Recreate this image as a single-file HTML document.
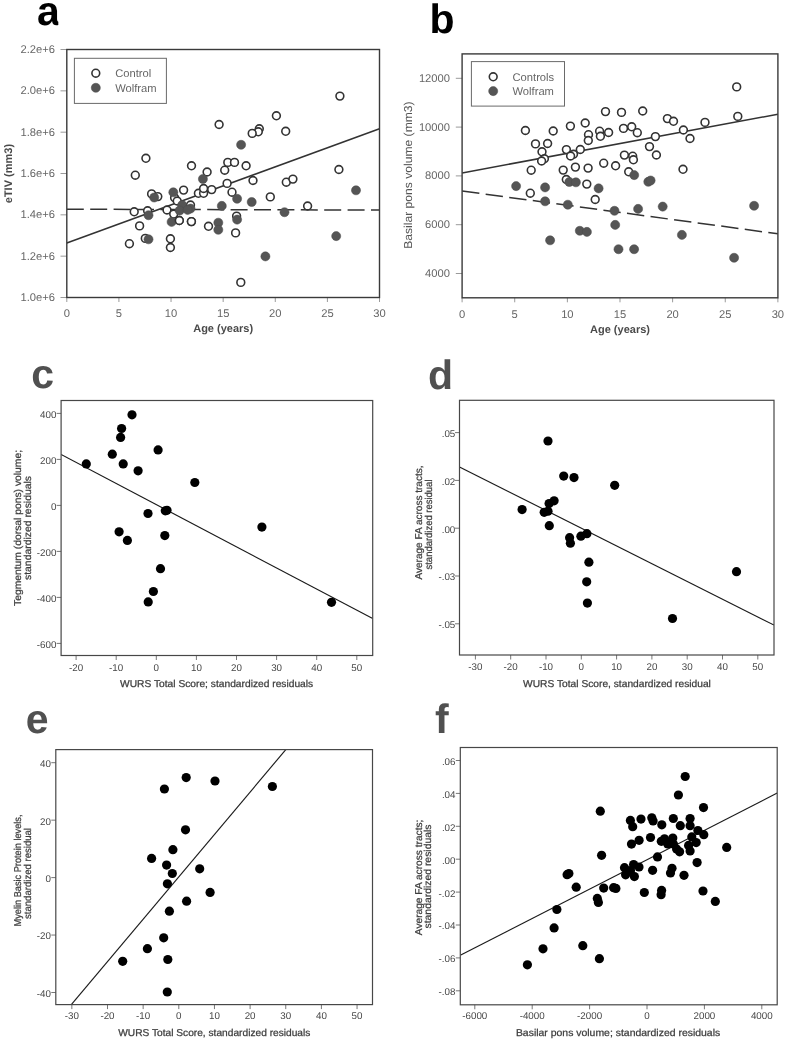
<!DOCTYPE html>
<html><head><meta charset="utf-8"><title>Figure</title>
<style>
html,body{margin:0;padding:0;background:#fff;overflow:hidden}
svg{display:block;will-change:transform}
text{font-family:"Liberation Sans",sans-serif;text-rendering:geometricPrecision}
</style></head><body>
<svg width="787" height="1041" viewBox="0 0 787 1041">
<rect width="787" height="1041" fill="#fff"/>
<defs>
<clipPath id="ca"><rect x="66.8" y="49.5" width="312.7" height="248"/></clipPath>
<clipPath id="cb"><rect x="462.1" y="53.9" width="315.8" height="243.9"/></clipPath>
<clipPath id="cc"><rect x="61.1" y="400.5" width="311.6" height="255"/></clipPath>
<clipPath id="cd"><rect x="459.5" y="400.3" width="314.5" height="254.7"/></clipPath>
<clipPath id="ce"><rect x="55.8" y="749.6" width="316.7" height="255"/></clipPath>
<clipPath id="cf"><rect x="460.3" y="747.5" width="316.9" height="257.3"/></clipPath>
<clipPath id="cla"><rect x="30" y="0" width="28.3" height="40"/></clipPath>
</defs>
<line x1="60.5" y1="297.5" x2="66.8" y2="297.5" stroke="#9a9a9a" stroke-width="1"/>
<text x="55" y="300.9" font-size="11.2" fill="#666" text-anchor="end">1.0e+6</text>
<line x1="60.5" y1="256.17" x2="66.8" y2="256.17" stroke="#9a9a9a" stroke-width="1"/>
<text x="55" y="259.57" font-size="11.2" fill="#666" text-anchor="end">1.2e+6</text>
<line x1="60.5" y1="214.84" x2="66.8" y2="214.84" stroke="#9a9a9a" stroke-width="1"/>
<text x="55" y="218.24" font-size="11.2" fill="#666" text-anchor="end">1.4e+6</text>
<line x1="60.5" y1="173.51" x2="66.8" y2="173.51" stroke="#9a9a9a" stroke-width="1"/>
<text x="55" y="176.91" font-size="11.2" fill="#666" text-anchor="end">1.6e+6</text>
<line x1="60.5" y1="132.18" x2="66.8" y2="132.18" stroke="#9a9a9a" stroke-width="1"/>
<text x="55" y="135.58" font-size="11.2" fill="#666" text-anchor="end">1.8e+6</text>
<line x1="60.5" y1="90.85" x2="66.8" y2="90.85" stroke="#9a9a9a" stroke-width="1"/>
<text x="55" y="94.25" font-size="11.2" fill="#666" text-anchor="end">2.0e+6</text>
<line x1="60.5" y1="49.52" x2="66.8" y2="49.52" stroke="#9a9a9a" stroke-width="1"/>
<text x="55" y="52.92" font-size="11.2" fill="#666" text-anchor="end">2.2e+6</text>
<line x1="66.8" y1="297.5" x2="66.8" y2="302" stroke="#9a9a9a" stroke-width="1"/>
<text x="66.8" y="317.1" font-size="11.2" fill="#666" text-anchor="middle">0</text>
<line x1="118.92" y1="297.5" x2="118.92" y2="302" stroke="#9a9a9a" stroke-width="1"/>
<text x="118.92" y="317.1" font-size="11.2" fill="#666" text-anchor="middle">5</text>
<line x1="171.04" y1="297.5" x2="171.04" y2="302" stroke="#9a9a9a" stroke-width="1"/>
<text x="171.04" y="317.1" font-size="11.2" fill="#666" text-anchor="middle">10</text>
<line x1="223.16" y1="297.5" x2="223.16" y2="302" stroke="#9a9a9a" stroke-width="1"/>
<text x="223.16" y="317.1" font-size="11.2" fill="#666" text-anchor="middle">15</text>
<line x1="275.28" y1="297.5" x2="275.28" y2="302" stroke="#9a9a9a" stroke-width="1"/>
<text x="275.28" y="317.1" font-size="11.2" fill="#666" text-anchor="middle">20</text>
<line x1="327.4" y1="297.5" x2="327.4" y2="302" stroke="#9a9a9a" stroke-width="1"/>
<text x="327.4" y="317.1" font-size="11.2" fill="#666" text-anchor="middle">25</text>
<line x1="379.52" y1="297.5" x2="379.52" y2="302" stroke="#9a9a9a" stroke-width="1"/>
<text x="379.52" y="317.1" font-size="11.2" fill="#666" text-anchor="middle">30</text>
<text x="223.15" y="332.3" font-size="11" fill="#4a4a4a" text-anchor="middle" font-weight="bold">Age (years)</text>
<text x="11.9" y="173.6" font-size="11" fill="#4a4a4a" text-anchor="middle" font-weight="bold" transform="rotate(-90 11.9 173.6)">eTIV (mm3)</text>
<g clip-path="url(#ca)">
<line x1="66.8" y1="243" x2="379.5" y2="128.8" stroke="#333" stroke-width="1.5"/>
<line x1="66.8" y1="209.2" x2="379.5" y2="210.1" stroke="#333" stroke-width="1.5" stroke-dasharray="17 6.4"/>
<circle cx="219.1" cy="124.5" r="3.9" fill="#fff" stroke="#333" stroke-width="1.6"/>
<circle cx="145.9" cy="158.3" r="3.9" fill="#fff" stroke="#333" stroke-width="1.6"/>
<circle cx="135.3" cy="175.2" r="3.9" fill="#fff" stroke="#333" stroke-width="1.6"/>
<circle cx="191.5" cy="165.8" r="3.9" fill="#fff" stroke="#333" stroke-width="1.6"/>
<circle cx="227.8" cy="162.4" r="3.9" fill="#fff" stroke="#333" stroke-width="1.6"/>
<circle cx="234.5" cy="162.4" r="3.9" fill="#fff" stroke="#333" stroke-width="1.6"/>
<circle cx="246.1" cy="165.8" r="3.9" fill="#fff" stroke="#333" stroke-width="1.6"/>
<circle cx="224.7" cy="170.2" r="3.9" fill="#fff" stroke="#333" stroke-width="1.6"/>
<circle cx="207.1" cy="172" r="3.9" fill="#fff" stroke="#333" stroke-width="1.6"/>
<circle cx="227.1" cy="183.4" r="3.9" fill="#fff" stroke="#333" stroke-width="1.6"/>
<circle cx="151.6" cy="193.9" r="3.9" fill="#fff" stroke="#333" stroke-width="1.6"/>
<circle cx="157.8" cy="196.6" r="3.9" fill="#fff" stroke="#333" stroke-width="1.6"/>
<circle cx="183.6" cy="190.1" r="3.9" fill="#fff" stroke="#333" stroke-width="1.6"/>
<circle cx="174.6" cy="197.8" r="3.9" fill="#fff" stroke="#333" stroke-width="1.6"/>
<circle cx="177.2" cy="201" r="3.9" fill="#fff" stroke="#333" stroke-width="1.6"/>
<circle cx="134.2" cy="211.8" r="3.9" fill="#fff" stroke="#333" stroke-width="1.6"/>
<circle cx="147.6" cy="210.8" r="3.9" fill="#fff" stroke="#333" stroke-width="1.6"/>
<circle cx="167" cy="210" r="3.9" fill="#fff" stroke="#333" stroke-width="1.6"/>
<circle cx="173.7" cy="214.1" r="3.9" fill="#fff" stroke="#333" stroke-width="1.6"/>
<circle cx="179.3" cy="220.5" r="3.9" fill="#fff" stroke="#333" stroke-width="1.6"/>
<circle cx="191.4" cy="221.6" r="3.9" fill="#fff" stroke="#333" stroke-width="1.6"/>
<circle cx="139.6" cy="225.9" r="3.9" fill="#fff" stroke="#333" stroke-width="1.6"/>
<circle cx="145.3" cy="238.4" r="3.9" fill="#fff" stroke="#333" stroke-width="1.6"/>
<circle cx="129.4" cy="243.7" r="3.9" fill="#fff" stroke="#333" stroke-width="1.6"/>
<circle cx="170.4" cy="238.8" r="3.9" fill="#fff" stroke="#333" stroke-width="1.6"/>
<circle cx="170.4" cy="247.5" r="3.9" fill="#fff" stroke="#333" stroke-width="1.6"/>
<circle cx="198.4" cy="193.3" r="3.9" fill="#fff" stroke="#333" stroke-width="1.6"/>
<circle cx="203.6" cy="193.3" r="3.9" fill="#fff" stroke="#333" stroke-width="1.6"/>
<circle cx="203.6" cy="188.5" r="3.9" fill="#fff" stroke="#333" stroke-width="1.6"/>
<circle cx="211.7" cy="189.6" r="3.9" fill="#fff" stroke="#333" stroke-width="1.6"/>
<circle cx="232" cy="192.2" r="3.9" fill="#fff" stroke="#333" stroke-width="1.6"/>
<circle cx="190.5" cy="205" r="3.9" fill="#fff" stroke="#333" stroke-width="1.6"/>
<circle cx="208.5" cy="226.3" r="3.9" fill="#fff" stroke="#333" stroke-width="1.6"/>
<circle cx="236.6" cy="216.1" r="3.9" fill="#fff" stroke="#333" stroke-width="1.6"/>
<circle cx="235.6" cy="232.9" r="3.9" fill="#fff" stroke="#333" stroke-width="1.6"/>
<circle cx="276.4" cy="115.8" r="3.9" fill="#fff" stroke="#333" stroke-width="1.6"/>
<circle cx="285.7" cy="131.3" r="3.9" fill="#fff" stroke="#333" stroke-width="1.6"/>
<circle cx="259.3" cy="128.8" r="3.9" fill="#fff" stroke="#333" stroke-width="1.6"/>
<circle cx="258.3" cy="131.8" r="3.9" fill="#fff" stroke="#333" stroke-width="1.6"/>
<circle cx="252.2" cy="133.4" r="3.9" fill="#fff" stroke="#333" stroke-width="1.6"/>
<circle cx="339.9" cy="96.1" r="3.9" fill="#fff" stroke="#333" stroke-width="1.6"/>
<circle cx="253" cy="180.5" r="3.9" fill="#fff" stroke="#333" stroke-width="1.6"/>
<circle cx="286.3" cy="182.2" r="3.9" fill="#fff" stroke="#333" stroke-width="1.6"/>
<circle cx="292.9" cy="179.1" r="3.9" fill="#fff" stroke="#333" stroke-width="1.6"/>
<circle cx="270.3" cy="196.9" r="3.9" fill="#fff" stroke="#333" stroke-width="1.6"/>
<circle cx="307.6" cy="206" r="3.9" fill="#fff" stroke="#333" stroke-width="1.6"/>
<circle cx="240.8" cy="282.4" r="3.9" fill="#fff" stroke="#333" stroke-width="1.6"/>
<circle cx="338.9" cy="169.5" r="3.9" fill="#fff" stroke="#333" stroke-width="1.6"/>
<circle cx="241.1" cy="144.8" r="4.55" fill="#555" stroke="#4a4a4a" stroke-width="0.5"/>
<circle cx="202.9" cy="179" r="4.55" fill="#555" stroke="#4a4a4a" stroke-width="0.5"/>
<circle cx="154.2" cy="197.5" r="4.55" fill="#555" stroke="#4a4a4a" stroke-width="0.5"/>
<circle cx="173.3" cy="192.3" r="4.55" fill="#555" stroke="#4a4a4a" stroke-width="0.5"/>
<circle cx="148.5" cy="215.2" r="4.55" fill="#555" stroke="#4a4a4a" stroke-width="0.5"/>
<circle cx="171.6" cy="221.9" r="4.55" fill="#555" stroke="#4a4a4a" stroke-width="0.5"/>
<circle cx="182.2" cy="205" r="4.55" fill="#555" stroke="#4a4a4a" stroke-width="0.5"/>
<circle cx="179.7" cy="210.5" r="4.55" fill="#555" stroke="#4a4a4a" stroke-width="0.5"/>
<circle cx="190.5" cy="208.6" r="4.55" fill="#555" stroke="#4a4a4a" stroke-width="0.5"/>
<circle cx="187.6" cy="209.9" r="4.55" fill="#555" stroke="#4a4a4a" stroke-width="0.5"/>
<circle cx="148.5" cy="239.3" r="4.55" fill="#555" stroke="#4a4a4a" stroke-width="0.5"/>
<circle cx="237.1" cy="198.8" r="4.55" fill="#555" stroke="#4a4a4a" stroke-width="0.5"/>
<circle cx="221.8" cy="205.9" r="4.55" fill="#555" stroke="#4a4a4a" stroke-width="0.5"/>
<circle cx="218.3" cy="222.7" r="4.55" fill="#555" stroke="#4a4a4a" stroke-width="0.5"/>
<circle cx="218.3" cy="229.8" r="4.55" fill="#555" stroke="#4a4a4a" stroke-width="0.5"/>
<circle cx="237.1" cy="219.6" r="4.55" fill="#555" stroke="#4a4a4a" stroke-width="0.5"/>
<circle cx="251.7" cy="202" r="4.55" fill="#555" stroke="#4a4a4a" stroke-width="0.5"/>
<circle cx="284.5" cy="212.2" r="4.55" fill="#555" stroke="#4a4a4a" stroke-width="0.5"/>
<circle cx="265.4" cy="256.4" r="4.55" fill="#555" stroke="#4a4a4a" stroke-width="0.5"/>
<circle cx="356" cy="190.3" r="4.55" fill="#555" stroke="#4a4a4a" stroke-width="0.5"/>
<circle cx="336.2" cy="236.1" r="4.55" fill="#555" stroke="#4a4a4a" stroke-width="0.5"/>
<circle cx="179.3" cy="220.5" r="3.9" fill="#fff" stroke="#333" stroke-width="1.6"/>
<circle cx="191.4" cy="221.6" r="3.9" fill="#fff" stroke="#333" stroke-width="1.6"/>
</g>
<rect x="74.4" y="58.3" width="92" height="45.1" fill="#fff" stroke="#6a6a6a" stroke-width="1"/>
<circle cx="95.8" cy="73.2" r="3.9" fill="#fff" stroke="#333" stroke-width="1.6"/>
<circle cx="95.8" cy="87.8" r="4.55" fill="#555" stroke="#4a4a4a" stroke-width="0.5"/>
<text x="115.2" y="77.1" font-size="11.2" fill="#666">Control</text>
<text x="115.2" y="91.7" font-size="11.2" fill="#666">Wolfram</text>
<rect x="66.8" y="49.5" width="312.7" height="248" fill="none" stroke="#3a3a3a" stroke-width="1.4"/>
<g clip-path="url(#cla)">
<text x="37.1" y="24.6" font-size="41" fill="#000" font-weight="bold">a</text>
</g>
<line x1="455.8" y1="273.5" x2="462.1" y2="273.5" stroke="#9a9a9a" stroke-width="1"/>
<text x="450" y="276.9" font-size="11.2" fill="#666" text-anchor="end">4000</text>
<line x1="455.8" y1="224.7" x2="462.1" y2="224.7" stroke="#9a9a9a" stroke-width="1"/>
<text x="450" y="228.1" font-size="11.2" fill="#666" text-anchor="end">6000</text>
<line x1="455.8" y1="175.9" x2="462.1" y2="175.9" stroke="#9a9a9a" stroke-width="1"/>
<text x="450" y="179.3" font-size="11.2" fill="#666" text-anchor="end">8000</text>
<line x1="455.8" y1="127.1" x2="462.1" y2="127.1" stroke="#9a9a9a" stroke-width="1"/>
<text x="450" y="130.5" font-size="11.2" fill="#666" text-anchor="end">10000</text>
<line x1="455.8" y1="78.3" x2="462.1" y2="78.3" stroke="#9a9a9a" stroke-width="1"/>
<text x="450" y="81.7" font-size="11.2" fill="#666" text-anchor="end">12000</text>
<line x1="462.1" y1="297.8" x2="462.1" y2="302.3" stroke="#9a9a9a" stroke-width="1"/>
<text x="462.1" y="317.5" font-size="11.2" fill="#666" text-anchor="middle">0</text>
<line x1="514.73" y1="297.8" x2="514.73" y2="302.3" stroke="#9a9a9a" stroke-width="1"/>
<text x="514.73" y="317.5" font-size="11.2" fill="#666" text-anchor="middle">5</text>
<line x1="567.36" y1="297.8" x2="567.36" y2="302.3" stroke="#9a9a9a" stroke-width="1"/>
<text x="567.36" y="317.5" font-size="11.2" fill="#666" text-anchor="middle">10</text>
<line x1="619.99" y1="297.8" x2="619.99" y2="302.3" stroke="#9a9a9a" stroke-width="1"/>
<text x="619.99" y="317.5" font-size="11.2" fill="#666" text-anchor="middle">15</text>
<line x1="672.62" y1="297.8" x2="672.62" y2="302.3" stroke="#9a9a9a" stroke-width="1"/>
<text x="672.62" y="317.5" font-size="11.2" fill="#666" text-anchor="middle">20</text>
<line x1="725.25" y1="297.8" x2="725.25" y2="302.3" stroke="#9a9a9a" stroke-width="1"/>
<text x="725.25" y="317.5" font-size="11.2" fill="#666" text-anchor="middle">25</text>
<line x1="777.88" y1="297.8" x2="777.88" y2="302.3" stroke="#9a9a9a" stroke-width="1"/>
<text x="777.88" y="317.5" font-size="11.2" fill="#666" text-anchor="middle">30</text>
<text x="620" y="333" font-size="11" fill="#4a4a4a" text-anchor="middle" font-weight="bold">Age (years)</text>
<text x="412.4" y="175.1" font-size="11.5" fill="#555" text-anchor="middle" transform="rotate(-90 412.4 175.1)" textLength="147.4" lengthAdjust="spacingAndGlyphs">Basilar pons volume (mm3)</text>
<g clip-path="url(#cb)">
<line x1="462.1" y1="172.9" x2="777.9" y2="114.2" stroke="#333" stroke-width="1.5"/>
<line x1="462.1" y1="191" x2="777.9" y2="233.8" stroke="#333" stroke-width="1.5" stroke-dasharray="17.4 6.37"/>
<circle cx="525.4" cy="130.5" r="3.9" fill="#fff" stroke="#333" stroke-width="1.6"/>
<circle cx="553.2" cy="131" r="3.9" fill="#fff" stroke="#333" stroke-width="1.6"/>
<circle cx="535.5" cy="143.9" r="3.9" fill="#fff" stroke="#333" stroke-width="1.6"/>
<circle cx="547.6" cy="143.5" r="3.9" fill="#fff" stroke="#333" stroke-width="1.6"/>
<circle cx="542" cy="151.8" r="3.9" fill="#fff" stroke="#333" stroke-width="1.6"/>
<circle cx="544.4" cy="158.8" r="3.9" fill="#fff" stroke="#333" stroke-width="1.6"/>
<circle cx="541.6" cy="161" r="3.9" fill="#fff" stroke="#333" stroke-width="1.6"/>
<circle cx="566.4" cy="149.6" r="3.9" fill="#fff" stroke="#333" stroke-width="1.6"/>
<circle cx="531.2" cy="170.2" r="3.9" fill="#fff" stroke="#333" stroke-width="1.6"/>
<circle cx="605.5" cy="111.6" r="3.9" fill="#fff" stroke="#333" stroke-width="1.6"/>
<circle cx="621.5" cy="112.4" r="3.9" fill="#fff" stroke="#333" stroke-width="1.6"/>
<circle cx="642.7" cy="111" r="3.9" fill="#fff" stroke="#333" stroke-width="1.6"/>
<circle cx="570.4" cy="126.1" r="3.9" fill="#fff" stroke="#333" stroke-width="1.6"/>
<circle cx="585.2" cy="123" r="3.9" fill="#fff" stroke="#333" stroke-width="1.6"/>
<circle cx="588.5" cy="134.7" r="3.9" fill="#fff" stroke="#333" stroke-width="1.6"/>
<circle cx="588.3" cy="140.5" r="3.9" fill="#fff" stroke="#333" stroke-width="1.6"/>
<circle cx="599.6" cy="131.2" r="3.9" fill="#fff" stroke="#333" stroke-width="1.6"/>
<circle cx="600.4" cy="136.3" r="3.9" fill="#fff" stroke="#333" stroke-width="1.6"/>
<circle cx="608.6" cy="132.5" r="3.9" fill="#fff" stroke="#333" stroke-width="1.6"/>
<circle cx="623.5" cy="128.4" r="3.9" fill="#fff" stroke="#333" stroke-width="1.6"/>
<circle cx="631.7" cy="126.8" r="3.9" fill="#fff" stroke="#333" stroke-width="1.6"/>
<circle cx="637.3" cy="132.7" r="3.9" fill="#fff" stroke="#333" stroke-width="1.6"/>
<circle cx="573.5" cy="154.3" r="3.9" fill="#fff" stroke="#333" stroke-width="1.6"/>
<circle cx="570.6" cy="156" r="3.9" fill="#fff" stroke="#333" stroke-width="1.6"/>
<circle cx="580.3" cy="149.5" r="3.9" fill="#fff" stroke="#333" stroke-width="1.6"/>
<circle cx="624.4" cy="155.1" r="3.9" fill="#fff" stroke="#333" stroke-width="1.6"/>
<circle cx="632.7" cy="156.2" r="3.9" fill="#fff" stroke="#333" stroke-width="1.6"/>
<circle cx="667.4" cy="118.6" r="3.9" fill="#fff" stroke="#333" stroke-width="1.6"/>
<circle cx="673.5" cy="121.3" r="3.9" fill="#fff" stroke="#333" stroke-width="1.6"/>
<circle cx="705" cy="122.4" r="3.9" fill="#fff" stroke="#333" stroke-width="1.6"/>
<circle cx="655.4" cy="136.6" r="3.9" fill="#fff" stroke="#333" stroke-width="1.6"/>
<circle cx="683.4" cy="130" r="3.9" fill="#fff" stroke="#333" stroke-width="1.6"/>
<circle cx="690" cy="138.5" r="3.9" fill="#fff" stroke="#333" stroke-width="1.6"/>
<circle cx="736.7" cy="86.9" r="3.9" fill="#fff" stroke="#333" stroke-width="1.6"/>
<circle cx="737.8" cy="116.4" r="3.9" fill="#fff" stroke="#333" stroke-width="1.6"/>
<circle cx="563.2" cy="170.1" r="3.9" fill="#fff" stroke="#333" stroke-width="1.6"/>
<circle cx="575.4" cy="167.1" r="3.9" fill="#fff" stroke="#333" stroke-width="1.6"/>
<circle cx="588.1" cy="168.1" r="3.9" fill="#fff" stroke="#333" stroke-width="1.6"/>
<circle cx="603.7" cy="163.2" r="3.9" fill="#fff" stroke="#333" stroke-width="1.6"/>
<circle cx="615.6" cy="165.8" r="3.9" fill="#fff" stroke="#333" stroke-width="1.6"/>
<circle cx="628.7" cy="171.8" r="3.9" fill="#fff" stroke="#333" stroke-width="1.6"/>
<circle cx="566.3" cy="179.5" r="3.9" fill="#fff" stroke="#333" stroke-width="1.6"/>
<circle cx="586.8" cy="184.1" r="3.9" fill="#fff" stroke="#333" stroke-width="1.6"/>
<circle cx="595.2" cy="199.5" r="3.9" fill="#fff" stroke="#333" stroke-width="1.6"/>
<circle cx="530.3" cy="193.2" r="3.9" fill="#fff" stroke="#333" stroke-width="1.6"/>
<circle cx="649.5" cy="146.6" r="3.9" fill="#fff" stroke="#333" stroke-width="1.6"/>
<circle cx="656.4" cy="155" r="3.9" fill="#fff" stroke="#333" stroke-width="1.6"/>
<circle cx="633.4" cy="159.8" r="3.9" fill="#fff" stroke="#333" stroke-width="1.6"/>
<circle cx="683" cy="169.3" r="3.9" fill="#fff" stroke="#333" stroke-width="1.6"/>
<circle cx="516.1" cy="186.1" r="4.55" fill="#555" stroke="#4a4a4a" stroke-width="0.5"/>
<circle cx="545.1" cy="187.4" r="4.55" fill="#555" stroke="#4a4a4a" stroke-width="0.5"/>
<circle cx="545.1" cy="201.3" r="4.55" fill="#555" stroke="#4a4a4a" stroke-width="0.5"/>
<circle cx="569.3" cy="182" r="4.55" fill="#555" stroke="#4a4a4a" stroke-width="0.5"/>
<circle cx="575.9" cy="182.3" r="4.55" fill="#555" stroke="#4a4a4a" stroke-width="0.5"/>
<circle cx="598.6" cy="188.4" r="4.55" fill="#555" stroke="#4a4a4a" stroke-width="0.5"/>
<circle cx="567.8" cy="204.7" r="4.55" fill="#555" stroke="#4a4a4a" stroke-width="0.5"/>
<circle cx="614.5" cy="210.8" r="4.55" fill="#555" stroke="#4a4a4a" stroke-width="0.5"/>
<circle cx="634.2" cy="175.1" r="4.55" fill="#555" stroke="#4a4a4a" stroke-width="0.5"/>
<circle cx="648.3" cy="181.8" r="4.55" fill="#555" stroke="#4a4a4a" stroke-width="0.5"/>
<circle cx="650.6" cy="180.5" r="4.55" fill="#555" stroke="#4a4a4a" stroke-width="0.5"/>
<circle cx="638.1" cy="208.9" r="4.55" fill="#555" stroke="#4a4a4a" stroke-width="0.5"/>
<circle cx="662.7" cy="206.6" r="4.55" fill="#555" stroke="#4a4a4a" stroke-width="0.5"/>
<circle cx="754.1" cy="205.8" r="4.55" fill="#555" stroke="#4a4a4a" stroke-width="0.5"/>
<circle cx="550.1" cy="240.3" r="4.55" fill="#555" stroke="#4a4a4a" stroke-width="0.5"/>
<circle cx="579.8" cy="230.8" r="4.55" fill="#555" stroke="#4a4a4a" stroke-width="0.5"/>
<circle cx="586.9" cy="231.9" r="4.55" fill="#555" stroke="#4a4a4a" stroke-width="0.5"/>
<circle cx="615.2" cy="224.9" r="4.55" fill="#555" stroke="#4a4a4a" stroke-width="0.5"/>
<circle cx="681.9" cy="234.9" r="4.55" fill="#555" stroke="#4a4a4a" stroke-width="0.5"/>
<circle cx="618.5" cy="249.2" r="4.55" fill="#555" stroke="#4a4a4a" stroke-width="0.5"/>
<circle cx="634.1" cy="249.2" r="4.55" fill="#555" stroke="#4a4a4a" stroke-width="0.5"/>
<circle cx="734.1" cy="257.8" r="4.55" fill="#555" stroke="#4a4a4a" stroke-width="0.5"/>
</g>
<rect x="471.4" y="61.6" width="93.1" height="44.5" fill="#fff" stroke="#6a6a6a" stroke-width="1"/>
<circle cx="493.2" cy="76.8" r="3.9" fill="#fff" stroke="#333" stroke-width="1.6"/>
<circle cx="493.2" cy="91.1" r="4.55" fill="#555" stroke="#4a4a4a" stroke-width="0.5"/>
<text x="512.5" y="80.7" font-size="11.2" fill="#666">Controls</text>
<text x="512.5" y="95" font-size="11.2" fill="#666">Wolfram</text>
<rect x="462.1" y="53.9" width="315.8" height="243.9" fill="none" stroke="#3a3a3a" stroke-width="1.4"/>
<text x="429.5" y="33.3" font-size="41" fill="#000" font-weight="bold">b</text>
<line x1="56.6" y1="413.4" x2="61.1" y2="413.4" stroke="#777" stroke-width="1"/>
<text x="56.4" y="417.8" font-size="9.8" fill="#474747" text-anchor="end">400</text>
<line x1="56.6" y1="459.4" x2="61.1" y2="459.4" stroke="#777" stroke-width="1"/>
<text x="56.4" y="463.8" font-size="9.8" fill="#474747" text-anchor="end">200</text>
<line x1="56.6" y1="505.4" x2="61.1" y2="505.4" stroke="#777" stroke-width="1"/>
<text x="56.4" y="509.8" font-size="9.8" fill="#474747" text-anchor="end">0</text>
<line x1="56.6" y1="551.4" x2="61.1" y2="551.4" stroke="#777" stroke-width="1"/>
<text x="56.4" y="555.8" font-size="9.8" fill="#474747" text-anchor="end">-200</text>
<line x1="56.6" y1="597.4" x2="61.1" y2="597.4" stroke="#777" stroke-width="1"/>
<text x="56.4" y="601.8" font-size="9.8" fill="#474747" text-anchor="end">-400</text>
<line x1="56.6" y1="643.4" x2="61.1" y2="643.4" stroke="#777" stroke-width="1"/>
<text x="56.4" y="647.8" font-size="9.8" fill="#474747" text-anchor="end">-600</text>
<line x1="76.1" y1="655.5" x2="76.1" y2="660" stroke="#777" stroke-width="1"/>
<text x="76.1" y="670.5" font-size="9.8" fill="#474747" text-anchor="middle">-20</text>
<line x1="116.2" y1="655.5" x2="116.2" y2="660" stroke="#777" stroke-width="1"/>
<text x="116.2" y="670.5" font-size="9.8" fill="#474747" text-anchor="middle">-10</text>
<line x1="156.3" y1="655.5" x2="156.3" y2="660" stroke="#777" stroke-width="1"/>
<text x="156.3" y="670.5" font-size="9.8" fill="#474747" text-anchor="middle">0</text>
<line x1="196.4" y1="655.5" x2="196.4" y2="660" stroke="#777" stroke-width="1"/>
<text x="196.4" y="670.5" font-size="9.8" fill="#474747" text-anchor="middle">10</text>
<line x1="236.5" y1="655.5" x2="236.5" y2="660" stroke="#777" stroke-width="1"/>
<text x="236.5" y="670.5" font-size="9.8" fill="#474747" text-anchor="middle">20</text>
<line x1="276.6" y1="655.5" x2="276.6" y2="660" stroke="#777" stroke-width="1"/>
<text x="276.6" y="670.5" font-size="9.8" fill="#474747" text-anchor="middle">30</text>
<line x1="316.7" y1="655.5" x2="316.7" y2="660" stroke="#777" stroke-width="1"/>
<text x="316.7" y="670.5" font-size="9.8" fill="#474747" text-anchor="middle">40</text>
<line x1="356.8" y1="655.5" x2="356.8" y2="660" stroke="#777" stroke-width="1"/>
<text x="356.8" y="670.5" font-size="9.8" fill="#474747" text-anchor="middle">50</text>
<text x="120" y="686.6" font-size="9.95" fill="#3d3d3d" stroke="#3d3d3d" stroke-width="0.25" textLength="193.2" lengthAdjust="spacingAndGlyphs">WURS Total Score; standardized residuals</text>
<text x="21.3" y="528" font-size="9.95" fill="#3d3d3d" stroke="#3d3d3d" stroke-width="0.25" text-anchor="middle" transform="rotate(-90 21.3 528)" textLength="156" lengthAdjust="spacingAndGlyphs">Tegmentum (dorsal pons) volume;</text>
<text x="30.6" y="528" font-size="9.95" fill="#3d3d3d" stroke="#3d3d3d" stroke-width="0.25" text-anchor="middle" transform="rotate(-90 30.6 528)" textLength="104" lengthAdjust="spacingAndGlyphs">standardized residuals</text>
<g clip-path="url(#cc)">
<line x1="61.1" y1="454.5" x2="372.7" y2="618.5" stroke="#1a1a1a" stroke-width="1.15"/>
<circle cx="132" cy="414.8" r="4.6" fill="#000"/>
<circle cx="121.6" cy="428.5" r="4.6" fill="#000"/>
<circle cx="120.6" cy="437.4" r="4.6" fill="#000"/>
<circle cx="112.3" cy="454.2" r="4.6" fill="#000"/>
<circle cx="123.2" cy="463.9" r="4.6" fill="#000"/>
<circle cx="86.3" cy="463.9" r="4.6" fill="#000"/>
<circle cx="138.1" cy="470.8" r="4.6" fill="#000"/>
<circle cx="158.1" cy="449.9" r="4.6" fill="#000"/>
<circle cx="194.8" cy="482.5" r="4.6" fill="#000"/>
<circle cx="165.3" cy="510.8" r="4.6" fill="#000"/>
<circle cx="167" cy="510.3" r="4.6" fill="#000"/>
<circle cx="148" cy="513.5" r="4.6" fill="#000"/>
<circle cx="119.1" cy="531.8" r="4.6" fill="#000"/>
<circle cx="127.4" cy="540.4" r="4.6" fill="#000"/>
<circle cx="164.8" cy="535.6" r="4.6" fill="#000"/>
<circle cx="160.5" cy="568.7" r="4.6" fill="#000"/>
<circle cx="153.4" cy="591.5" r="4.6" fill="#000"/>
<circle cx="148.2" cy="601.9" r="4.6" fill="#000"/>
<circle cx="261.9" cy="527.1" r="4.6" fill="#000"/>
<circle cx="331.5" cy="602.3" r="4.6" fill="#000"/>
</g>
<rect x="61.1" y="400.5" width="311.6" height="255" fill="none" stroke="#474747" stroke-width="1.2"/>
<text x="31.2" y="388.4" font-size="41" fill="#505050" font-weight="bold">c</text>
<line x1="455" y1="432.6" x2="459.5" y2="432.6" stroke="#777" stroke-width="1"/>
<text x="455.3" y="437" font-size="9.8" fill="#474747" text-anchor="end">.05</text>
<line x1="455" y1="480.4" x2="459.5" y2="480.4" stroke="#777" stroke-width="1"/>
<text x="455.3" y="484.8" font-size="9.8" fill="#474747" text-anchor="end">.02</text>
<line x1="455" y1="528.2" x2="459.5" y2="528.2" stroke="#777" stroke-width="1"/>
<text x="455.3" y="532.6" font-size="9.8" fill="#474747" text-anchor="end">.00</text>
<line x1="455" y1="576" x2="459.5" y2="576" stroke="#777" stroke-width="1"/>
<text x="455.3" y="580.4" font-size="9.8" fill="#474747" text-anchor="end">-.03</text>
<line x1="455" y1="623.8" x2="459.5" y2="623.8" stroke="#777" stroke-width="1"/>
<text x="455.3" y="628.2" font-size="9.8" fill="#474747" text-anchor="end">-.05</text>
<line x1="475.4" y1="655" x2="475.4" y2="659.5" stroke="#777" stroke-width="1"/>
<text x="475.4" y="670.2" font-size="9.8" fill="#474747" text-anchor="middle">-30</text>
<line x1="510.7" y1="655" x2="510.7" y2="659.5" stroke="#777" stroke-width="1"/>
<text x="510.7" y="670.2" font-size="9.8" fill="#474747" text-anchor="middle">-20</text>
<line x1="546" y1="655" x2="546" y2="659.5" stroke="#777" stroke-width="1"/>
<text x="546" y="670.2" font-size="9.8" fill="#474747" text-anchor="middle">-10</text>
<line x1="581.3" y1="655" x2="581.3" y2="659.5" stroke="#777" stroke-width="1"/>
<text x="581.3" y="670.2" font-size="9.8" fill="#474747" text-anchor="middle">0</text>
<line x1="616.6" y1="655" x2="616.6" y2="659.5" stroke="#777" stroke-width="1"/>
<text x="616.6" y="670.2" font-size="9.8" fill="#474747" text-anchor="middle">10</text>
<line x1="651.9" y1="655" x2="651.9" y2="659.5" stroke="#777" stroke-width="1"/>
<text x="651.9" y="670.2" font-size="9.8" fill="#474747" text-anchor="middle">20</text>
<line x1="687.2" y1="655" x2="687.2" y2="659.5" stroke="#777" stroke-width="1"/>
<text x="687.2" y="670.2" font-size="9.8" fill="#474747" text-anchor="middle">30</text>
<line x1="722.5" y1="655" x2="722.5" y2="659.5" stroke="#777" stroke-width="1"/>
<text x="722.5" y="670.2" font-size="9.8" fill="#474747" text-anchor="middle">40</text>
<line x1="757.8" y1="655" x2="757.8" y2="659.5" stroke="#777" stroke-width="1"/>
<text x="757.8" y="670.2" font-size="9.8" fill="#474747" text-anchor="middle">50</text>
<text x="523.1" y="686.7" font-size="9.95" fill="#3d3d3d" stroke="#3d3d3d" stroke-width="0.25" textLength="187.8" lengthAdjust="spacingAndGlyphs">WURS Total Score, standardized residual</text>
<text x="422.3" y="522.5" font-size="9.95" fill="#3d3d3d" stroke="#3d3d3d" stroke-width="0.25" text-anchor="middle" transform="rotate(-90 422.3 522.5)" textLength="114" lengthAdjust="spacingAndGlyphs">Average FA across tracts,</text>
<text x="431.8" y="524.5" font-size="9.95" fill="#3d3d3d" stroke="#3d3d3d" stroke-width="0.25" text-anchor="middle" transform="rotate(-90 431.8 524.5)" textLength="90" lengthAdjust="spacingAndGlyphs">standardized residual</text>
<g clip-path="url(#cd)">
<line x1="459.5" y1="466.9" x2="774" y2="625.1" stroke="#1a1a1a" stroke-width="1.15"/>
<circle cx="548" cy="441" r="4.6" fill="#000"/>
<circle cx="563.7" cy="476.1" r="4.6" fill="#000"/>
<circle cx="574" cy="477.6" r="4.6" fill="#000"/>
<circle cx="614.7" cy="485.3" r="4.6" fill="#000"/>
<circle cx="522.1" cy="509.6" r="4.6" fill="#000"/>
<circle cx="549.1" cy="503.6" r="4.6" fill="#000"/>
<circle cx="554.1" cy="500.8" r="4.6" fill="#000"/>
<circle cx="544.2" cy="512.3" r="4.6" fill="#000"/>
<circle cx="548" cy="511.2" r="4.6" fill="#000"/>
<circle cx="549.3" cy="525.7" r="4.6" fill="#000"/>
<circle cx="569.6" cy="537.7" r="4.6" fill="#000"/>
<circle cx="570.4" cy="543.2" r="4.6" fill="#000"/>
<circle cx="580.9" cy="536.2" r="4.6" fill="#000"/>
<circle cx="586.9" cy="533.7" r="4.6" fill="#000"/>
<circle cx="588.9" cy="562.2" r="4.6" fill="#000"/>
<circle cx="586.7" cy="581.8" r="4.6" fill="#000"/>
<circle cx="587.4" cy="603.1" r="4.6" fill="#000"/>
<circle cx="672.5" cy="618.5" r="4.6" fill="#000"/>
<circle cx="736.5" cy="571.7" r="4.6" fill="#000"/>
</g>
<rect x="459.5" y="400.3" width="314.5" height="254.7" fill="none" stroke="#474747" stroke-width="1.2"/>
<text x="428" y="389" font-size="41" fill="#505050" font-weight="bold">d</text>
<line x1="51.3" y1="762.7" x2="55.8" y2="762.7" stroke="#777" stroke-width="1"/>
<text x="50.9" y="767.1" font-size="9.8" fill="#474747" text-anchor="end">40</text>
<line x1="51.3" y1="820.15" x2="55.8" y2="820.15" stroke="#777" stroke-width="1"/>
<text x="50.9" y="824.55" font-size="9.8" fill="#474747" text-anchor="end">20</text>
<line x1="51.3" y1="877.6" x2="55.8" y2="877.6" stroke="#777" stroke-width="1"/>
<text x="50.9" y="882" font-size="9.8" fill="#474747" text-anchor="end">0</text>
<line x1="51.3" y1="935.05" x2="55.8" y2="935.05" stroke="#777" stroke-width="1"/>
<text x="50.9" y="939.45" font-size="9.8" fill="#474747" text-anchor="end">-20</text>
<line x1="51.3" y1="992.5" x2="55.8" y2="992.5" stroke="#777" stroke-width="1"/>
<text x="50.9" y="996.9" font-size="9.8" fill="#474747" text-anchor="end">-40</text>
<line x1="71.85" y1="1004.6" x2="71.85" y2="1009.1" stroke="#777" stroke-width="1"/>
<text x="71.85" y="1019.4" font-size="9.8" fill="#474747" text-anchor="middle">-30</text>
<line x1="107.5" y1="1004.6" x2="107.5" y2="1009.1" stroke="#777" stroke-width="1"/>
<text x="107.5" y="1019.4" font-size="9.8" fill="#474747" text-anchor="middle">-20</text>
<line x1="143.15" y1="1004.6" x2="143.15" y2="1009.1" stroke="#777" stroke-width="1"/>
<text x="143.15" y="1019.4" font-size="9.8" fill="#474747" text-anchor="middle">-10</text>
<line x1="178.8" y1="1004.6" x2="178.8" y2="1009.1" stroke="#777" stroke-width="1"/>
<text x="178.8" y="1019.4" font-size="9.8" fill="#474747" text-anchor="middle">0</text>
<line x1="214.45" y1="1004.6" x2="214.45" y2="1009.1" stroke="#777" stroke-width="1"/>
<text x="214.45" y="1019.4" font-size="9.8" fill="#474747" text-anchor="middle">10</text>
<line x1="250.1" y1="1004.6" x2="250.1" y2="1009.1" stroke="#777" stroke-width="1"/>
<text x="250.1" y="1019.4" font-size="9.8" fill="#474747" text-anchor="middle">20</text>
<line x1="285.75" y1="1004.6" x2="285.75" y2="1009.1" stroke="#777" stroke-width="1"/>
<text x="285.75" y="1019.4" font-size="9.8" fill="#474747" text-anchor="middle">30</text>
<line x1="321.4" y1="1004.6" x2="321.4" y2="1009.1" stroke="#777" stroke-width="1"/>
<text x="321.4" y="1019.4" font-size="9.8" fill="#474747" text-anchor="middle">40</text>
<line x1="357.05" y1="1004.6" x2="357.05" y2="1009.1" stroke="#777" stroke-width="1"/>
<text x="357.05" y="1019.4" font-size="9.8" fill="#474747" text-anchor="middle">50</text>
<text x="118.2" y="1035.9" font-size="9.95" fill="#3d3d3d" stroke="#3d3d3d" stroke-width="0.25" textLength="192.2" lengthAdjust="spacingAndGlyphs">WURS Total Score, standardized residuals</text>
<text x="20.7" y="870.5" font-size="9.95" fill="#3d3d3d" stroke="#3d3d3d" stroke-width="0.25" text-anchor="middle" transform="rotate(-90 20.7 870.5)" textLength="112" lengthAdjust="spacingAndGlyphs">Myelin Basic Protein levels,</text>
<text x="31" y="873.5" font-size="9.95" fill="#3d3d3d" stroke="#3d3d3d" stroke-width="0.25" text-anchor="middle" transform="rotate(-90 31 873.5)" textLength="91" lengthAdjust="spacingAndGlyphs">standardized residual</text>
<g clip-path="url(#ce)">
<line x1="71.3" y1="1004.6" x2="285.8" y2="749.6" stroke="#1a1a1a" stroke-width="1.15"/>
<circle cx="164.4" cy="789" r="4.6" fill="#000"/>
<circle cx="186.2" cy="777.6" r="4.6" fill="#000"/>
<circle cx="215" cy="781" r="4.6" fill="#000"/>
<circle cx="272.4" cy="786.5" r="4.6" fill="#000"/>
<circle cx="185.5" cy="829.8" r="4.6" fill="#000"/>
<circle cx="172.9" cy="849.7" r="4.6" fill="#000"/>
<circle cx="151.6" cy="858.4" r="4.6" fill="#000"/>
<circle cx="166.6" cy="865.1" r="4.6" fill="#000"/>
<circle cx="172.3" cy="873.5" r="4.6" fill="#000"/>
<circle cx="199.7" cy="868.8" r="4.6" fill="#000"/>
<circle cx="167.4" cy="883.8" r="4.6" fill="#000"/>
<circle cx="210.1" cy="892.4" r="4.6" fill="#000"/>
<circle cx="186.6" cy="901.2" r="4.6" fill="#000"/>
<circle cx="169.4" cy="911.2" r="4.6" fill="#000"/>
<circle cx="163.7" cy="937.8" r="4.6" fill="#000"/>
<circle cx="147.4" cy="948.7" r="4.6" fill="#000"/>
<circle cx="122.7" cy="961.3" r="4.6" fill="#000"/>
<circle cx="167.8" cy="959.5" r="4.6" fill="#000"/>
<circle cx="167.3" cy="992" r="4.6" fill="#000"/>
</g>
<rect x="55.8" y="749.6" width="316.7" height="255" fill="none" stroke="#474747" stroke-width="1.2"/>
<text x="25.8" y="732.5" font-size="41" fill="#505050" font-weight="bold">e</text>
<line x1="455.8" y1="760.5" x2="460.3" y2="760.5" stroke="#777" stroke-width="1"/>
<text x="455.5" y="764.9" font-size="9.8" fill="#474747" text-anchor="end">.06</text>
<line x1="455.8" y1="793.4" x2="460.3" y2="793.4" stroke="#777" stroke-width="1"/>
<text x="455.5" y="797.8" font-size="9.8" fill="#474747" text-anchor="end">.04</text>
<line x1="455.8" y1="826.3" x2="460.3" y2="826.3" stroke="#777" stroke-width="1"/>
<text x="455.5" y="830.7" font-size="9.8" fill="#474747" text-anchor="end">.02</text>
<line x1="455.8" y1="859.2" x2="460.3" y2="859.2" stroke="#777" stroke-width="1"/>
<text x="455.5" y="863.6" font-size="9.8" fill="#474747" text-anchor="end">.00</text>
<line x1="455.8" y1="892.1" x2="460.3" y2="892.1" stroke="#777" stroke-width="1"/>
<text x="455.5" y="896.5" font-size="9.8" fill="#474747" text-anchor="end">-.02</text>
<line x1="455.8" y1="925" x2="460.3" y2="925" stroke="#777" stroke-width="1"/>
<text x="455.5" y="929.4" font-size="9.8" fill="#474747" text-anchor="end">-.04</text>
<line x1="455.8" y1="957.9" x2="460.3" y2="957.9" stroke="#777" stroke-width="1"/>
<text x="455.5" y="962.3" font-size="9.8" fill="#474747" text-anchor="end">-.06</text>
<line x1="455.8" y1="990.8" x2="460.3" y2="990.8" stroke="#777" stroke-width="1"/>
<text x="455.5" y="995.2" font-size="9.8" fill="#474747" text-anchor="end">-.08</text>
<line x1="474.8" y1="1004.8" x2="474.8" y2="1009.3" stroke="#777" stroke-width="1"/>
<text x="474.8" y="1019.4" font-size="9.8" fill="#474747" text-anchor="middle">-6000</text>
<line x1="532.2" y1="1004.8" x2="532.2" y2="1009.3" stroke="#777" stroke-width="1"/>
<text x="532.2" y="1019.4" font-size="9.8" fill="#474747" text-anchor="middle">-4000</text>
<line x1="589.6" y1="1004.8" x2="589.6" y2="1009.3" stroke="#777" stroke-width="1"/>
<text x="589.6" y="1019.4" font-size="9.8" fill="#474747" text-anchor="middle">-2000</text>
<line x1="647" y1="1004.8" x2="647" y2="1009.3" stroke="#777" stroke-width="1"/>
<text x="647" y="1019.4" font-size="9.8" fill="#474747" text-anchor="middle">0</text>
<line x1="704.4" y1="1004.8" x2="704.4" y2="1009.3" stroke="#777" stroke-width="1"/>
<text x="704.4" y="1019.4" font-size="9.8" fill="#474747" text-anchor="middle">2000</text>
<line x1="761.8" y1="1004.8" x2="761.8" y2="1009.3" stroke="#777" stroke-width="1"/>
<text x="761.8" y="1019.4" font-size="9.8" fill="#474747" text-anchor="middle">4000</text>
<text x="515.9" y="1035.9" font-size="9.95" fill="#3d3d3d" stroke="#3d3d3d" stroke-width="0.25" textLength="204.3" lengthAdjust="spacingAndGlyphs">Basilar pons volume; standardized residuals</text>
<text x="422" y="877.4" font-size="9.95" fill="#3d3d3d" stroke="#3d3d3d" stroke-width="0.25" text-anchor="middle" transform="rotate(-90 422 877.4)" textLength="115.5" lengthAdjust="spacingAndGlyphs">Average FA across tracts;</text>
<text x="431.3" y="876.5" font-size="9.95" fill="#3d3d3d" stroke="#3d3d3d" stroke-width="0.25" text-anchor="middle" transform="rotate(-90 431.3 876.5)" textLength="104" lengthAdjust="spacingAndGlyphs">standardized residuals</text>
<g clip-path="url(#cf)">
<line x1="460.3" y1="955.2" x2="777.2" y2="793.1" stroke="#1a1a1a" stroke-width="1.15"/>
<circle cx="600.3" cy="811.2" r="4.6" fill="#000"/>
<circle cx="678.4" cy="795" r="4.6" fill="#000"/>
<circle cx="685.2" cy="776.5" r="4.6" fill="#000"/>
<circle cx="703.5" cy="807.6" r="4.6" fill="#000"/>
<circle cx="630.4" cy="820.4" r="4.6" fill="#000"/>
<circle cx="632.7" cy="826.7" r="4.6" fill="#000"/>
<circle cx="641" cy="819.1" r="4.6" fill="#000"/>
<circle cx="651.8" cy="817.8" r="4.6" fill="#000"/>
<circle cx="653.1" cy="821" r="4.6" fill="#000"/>
<circle cx="661.8" cy="824.8" r="4.6" fill="#000"/>
<circle cx="673.3" cy="818.5" r="4.6" fill="#000"/>
<circle cx="690.1" cy="818.5" r="4.6" fill="#000"/>
<circle cx="680.3" cy="825.7" r="4.6" fill="#000"/>
<circle cx="690.1" cy="825.7" r="4.6" fill="#000"/>
<circle cx="697.9" cy="830.5" r="4.6" fill="#000"/>
<circle cx="703.8" cy="834.7" r="4.6" fill="#000"/>
<circle cx="691.8" cy="836.9" r="4.6" fill="#000"/>
<circle cx="631.5" cy="844.1" r="4.6" fill="#000"/>
<circle cx="639.1" cy="840.3" r="4.6" fill="#000"/>
<circle cx="650.5" cy="837.5" r="4.6" fill="#000"/>
<circle cx="661.3" cy="841.3" r="4.6" fill="#000"/>
<circle cx="664.5" cy="838.8" r="4.6" fill="#000"/>
<circle cx="667.7" cy="843.9" r="4.6" fill="#000"/>
<circle cx="672.8" cy="838.1" r="4.6" fill="#000"/>
<circle cx="673.4" cy="843.9" r="4.6" fill="#000"/>
<circle cx="676.6" cy="849" r="4.6" fill="#000"/>
<circle cx="679.6" cy="851.8" r="4.6" fill="#000"/>
<circle cx="696.2" cy="842.6" r="4.6" fill="#000"/>
<circle cx="688.6" cy="845.4" r="4.6" fill="#000"/>
<circle cx="690.1" cy="850.9" r="4.6" fill="#000"/>
<circle cx="726.7" cy="847.4" r="4.6" fill="#000"/>
<circle cx="697.1" cy="862.6" r="4.6" fill="#000"/>
<circle cx="601.6" cy="855.3" r="4.6" fill="#000"/>
<circle cx="657.5" cy="856.9" r="4.6" fill="#000"/>
<circle cx="624.5" cy="867.7" r="4.6" fill="#000"/>
<circle cx="633.6" cy="864.5" r="4.6" fill="#000"/>
<circle cx="639" cy="867" r="4.6" fill="#000"/>
<circle cx="625.6" cy="874.8" r="4.6" fill="#000"/>
<circle cx="634.4" cy="876.6" r="4.6" fill="#000"/>
<circle cx="630.5" cy="870.5" r="4.6" fill="#000"/>
<circle cx="652.6" cy="870.3" r="4.6" fill="#000"/>
<circle cx="672" cy="868.3" r="4.6" fill="#000"/>
<circle cx="670.5" cy="872.9" r="4.6" fill="#000"/>
<circle cx="684" cy="875.3" r="4.6" fill="#000"/>
<circle cx="567.1" cy="874.7" r="4.6" fill="#000"/>
<circle cx="568.9" cy="873.5" r="4.6" fill="#000"/>
<circle cx="576.2" cy="887.2" r="4.6" fill="#000"/>
<circle cx="603.7" cy="888.1" r="4.6" fill="#000"/>
<circle cx="613.6" cy="887.7" r="4.6" fill="#000"/>
<circle cx="615.9" cy="888.4" r="4.6" fill="#000"/>
<circle cx="597.3" cy="898.4" r="4.6" fill="#000"/>
<circle cx="598.4" cy="902.5" r="4.6" fill="#000"/>
<circle cx="556.9" cy="909.5" r="4.6" fill="#000"/>
<circle cx="554.1" cy="927.9" r="4.6" fill="#000"/>
<circle cx="543" cy="948.8" r="4.6" fill="#000"/>
<circle cx="527.4" cy="964.8" r="4.6" fill="#000"/>
<circle cx="582.8" cy="945.7" r="4.6" fill="#000"/>
<circle cx="599.4" cy="958.7" r="4.6" fill="#000"/>
<circle cx="644.3" cy="892.5" r="4.6" fill="#000"/>
<circle cx="661.6" cy="890.4" r="4.6" fill="#000"/>
<circle cx="661.1" cy="894.7" r="4.6" fill="#000"/>
<circle cx="703" cy="891" r="4.6" fill="#000"/>
<circle cx="715.3" cy="901.4" r="4.6" fill="#000"/>
</g>
<rect x="460.3" y="747.5" width="316.9" height="257.3" fill="none" stroke="#474747" stroke-width="1.2"/>
<text x="435.1" y="732.5" font-size="41" fill="#505050" font-weight="bold">f</text>
</svg>
</body></html>
